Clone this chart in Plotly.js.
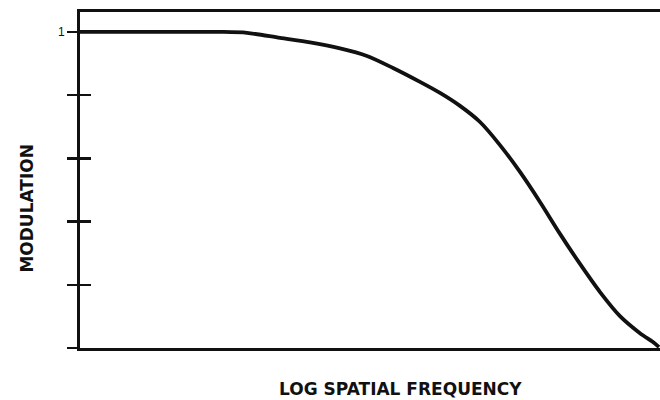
<!DOCTYPE html>
<html>
<head>
<meta charset="utf-8">
<script src="https://cdn.plot.ly/plotly-3.0.1.min.js"></script>
<style>html,body{margin:0;padding:0;background:#fff;}#chart{width:660px;height:400px;}</style>
</head>
<body>
<div id="chart"></div>
<script>
// Log spatial frequency (arbitrary units, 0 = left edge, 100 = right edge)
const logFreq = [0, 12.07, 24.14, 28.79, 34.48, 39.66, 44.83, 49.48, 53.97, 58.62, 62.07, 65.52, 68.97, 72.41, 75.86, 79.31, 82.76, 86.21, 89.66, 93.10, 96.55, 98.79, 99.83];
const modulation = [1.000, 1.000, 1.000, 0.997, 0.981, 0.967, 0.948, 0.924, 0.886, 0.842, 0.807, 0.766, 0.715, 0.642, 0.557, 0.462, 0.361, 0.266, 0.177, 0.101, 0.047, 0.019, 0.003];
const yTickVals = [0, 0.2, 0.4, 0.6, 0.8, 1];
const yTickText = ['', '', '', '', '', '1'];
const innerTickVals = [0.2001, 0.4001, 0.6001, 0.8001];
const xTitle = 'LOG SPATIAL FREQUENCY';
const yTitle = 'MODULATION';

const ink = '#111111';
const data = [
  {x: logFreq, y: modulation, type: 'scatter', mode: 'lines',
   line: {color: ink, width: 3.8, shape: 'spline', smoothing: 0.8}, hoverinfo: 'skip'}
];
const layout = {
  width: 660, height: 400,
  margin: {l: 80, r: 0, t: 12, b: 52},
  paper_bgcolor: '#ffffff', plot_bgcolor: '#ffffff',
  showlegend: false,
  xaxis: {range: [0, 100], showgrid: false, zeroline: false, showticklabels: false, ticks: '',
          showline: true, linecolor: ink, linewidth: 3, mirror: true},
  yaxis: {range: [0, 1.063], showgrid: false, zeroline: false,
          tickmode: 'array', tickvals: yTickVals, ticktext: yTickText,
          ticks: 'outside', ticklen: 10, tickwidth: 2.5, tickcolor: ink,
          showline: true, linecolor: ink, linewidth: 3,
          tickfont: {family: 'Liberation Sans, Arial, sans-serif', size: 12, color: ink},
          minor: {tickmode: 'array', tickvals: innerTickVals, ticks: 'inside', ticklen: 11,
                  tickwidth: 2.5, tickcolor: ink, showgrid: false}},
  annotations: [
    {text: '<b>' + xTitle + '</b>', xref: 'paper', yref: 'paper', x: 0.552, y: -0.1235,
     showarrow: false, xanchor: 'center', yanchor: 'middle',
     font: {family: 'DejaVu Sans, sans-serif', size: 17, color: ink}},
    {text: '<b>' + yTitle + '</b>', xref: 'paper', yref: 'paper', x: -0.093, y: 0.415,
     showarrow: false, xanchor: 'center', yanchor: 'middle', textangle: -90,
     font: {family: 'DejaVu Sans, sans-serif', size: 17, color: ink}}
  ]
};
Plotly.newPlot('chart', data, layout, {staticPlot: true, displayModeBar: false});
</script>
</body>
</html>
